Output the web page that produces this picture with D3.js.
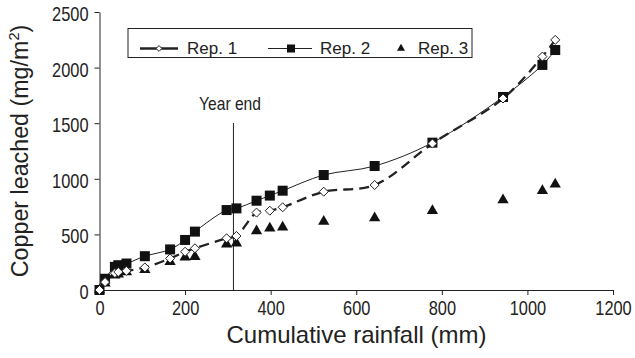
<!DOCTYPE html>
<html><head><meta charset="utf-8">
<script src="https://cdn.jsdelivr.net/npm/d3@7/dist/d3.min.js"></script>
<style>
body{margin:0;background:#fff;}
text{font-family:"Liberation Sans",Arial,sans-serif;fill:#222;}
</style></head><body>
<svg id="c" width="635" height="358"></svg>
<script>
const rainfall = [0, 13, 36, 44, 63, 106, 165, 200, 223, 297, 320, 367, 398, 428, 524, 643, 778, 943, 1035, 1065];
const rep1 = [0, 71, 152, 162, 172, 203, 284, 344, 375, 465, 486, 696, 713, 744, 884, 944, 1317, 1722, 2099, 2249];
const rep2 = [0, 101, 208, 223, 238, 304, 365, 450, 525, 719, 734, 803, 849, 893, 1034, 1115, 1325, 1736, 2024, 2158];
const rep3 = [0, 61, 132, 142, 162, 182, 253, 294, 300, 411, 420, 531, 555, 564, 615, 648, 713, 809, 893, 951];
const xTicks = [0, 200, 400, 600, 800, 1000, 1200];
const yTicks = [0, 500, 1000, 1500, 2000, 2500];
const yearEnd = 313;
const seriesNames = ["Rep. 1", "Rep. 2", "Rep. 3"];

const svg = d3.select("#c");
const x = d3.scaleLinear().domain([0, 1200]).range([99.5, 613]);
const y = d3.scaleLinear().domain([0, 2500]).range([290, 12]);
const K = 0.82; // horizontal compression for tick labels

// axes
const xAxis = svg.append("g").attr("transform", "translate(0,290)")
  .call(d3.axisBottom(x).tickValues(xTicks).tickFormat(d3.format("d")).tickSize(5).tickSizeOuter(0).tickPadding(4));
const yAxis = svg.append("g").attr("transform", "translate(99.5,0)")
  .call(d3.axisLeft(y).tickValues(yTicks).tickFormat(d3.format("d")).tickSize(5).tickSizeOuter(0).tickPadding(6));
[xAxis, yAxis].forEach(a => {
  a.selectAll("path,line").attr("stroke", "#222").attr("stroke-width", 1);
  a.selectAll("text").style("font-size", "20px").attr("fill", "#222")
    .style("font-family", '"Liberation Sans",Arial,sans-serif');
});
xAxis.selectAll(".tick text").attr("transform", `scale(${K},1)`).attr("y", 11).attr("dy", "0.71em");
yAxis.selectAll(".tick text").attr("transform", `scale(${K},1)`).attr("x", -11 / K).attr("dy", "0.42em");

// titles
svg.append("text").attr("x", 356.5).attr("y", 343).attr("text-anchor", "middle")
  .style("font-size", "24px").text("Cumulative rainfall (mm)");
const yt = svg.append("text").attr("transform", "translate(28,151) rotate(-90) scale(0.97,1)")
  .attr("text-anchor", "middle").style("font-size", "24px");
yt.append("tspan").text("Copper leached (mg/m");
yt.append("tspan").attr("dy", -9).style("font-size", "15px").text("2");
yt.append("tspan").attr("dy", 9).text(")");

// year end
svg.append("line").attr("x1", x(yearEnd)).attr("x2", x(yearEnd)).attr("y1", 123).attr("y2", 290)
  .attr("stroke", "#222").attr("stroke-width", 1);
svg.append("text").attr("transform", `translate(230,110) scale(0.84,1)`).attr("text-anchor", "middle")
  .style("font-size", "18.6px").text("Year end");

const d1 = rainfall.map((r, i) => [r, rep1[i]]);
const d2 = rainfall.map((r, i) => [r, rep2[i]]);
const d3p = rainfall.map((r, i) => [r, rep3[i]]);
const line = d3.line().x(d => x(d[0])).y(d => y(d[1])).curve(d3.curveCatmullRom.alpha(0.5));

svg.append("path").datum(d2).attr("d", line).attr("fill", "none").attr("stroke", "#222").attr("stroke-width", 1);
svg.append("path").datum(d1).attr("d", line).attr("fill", "none").attr("stroke", "#222")
  .attr("stroke-width", 2.3).attr("stroke-dasharray", "10,6");

const tri = d3.symbol().type(d3.symbolTriangle).size(55);
svg.append("g").selectAll("path").data(d3p).join("path")
  .attr("transform", d => `translate(${x(d[0])},${y(d[1])})`).attr("d", tri).attr("fill", "#111");
svg.append("g").selectAll("rect").data(d2).join("rect")
  .attr("x", d => x(d[0]) - 5).attr("y", d => y(d[1]) - 5).attr("width", 10).attr("height", 10).attr("fill", "#111");
const dia = d3.symbol().type(d3.symbolDiamond2).size(52);
svg.append("g").selectAll("path").data(d1).join("path")
  .attr("transform", d => `translate(${x(d[0])},${y(d[1])})`).attr("d", dia)
  .attr("fill", "#fff").attr("stroke", "#222").attr("stroke-width", 1);

// legend
const lg = svg.append("g");
lg.append("rect").attr("x", 128).attr("y", 28.5).attr("width", 344).attr("height", 29)
  .attr("fill", "#fff").attr("stroke", "#222").attr("stroke-width", 1);
const ly = 48.5;
lg.append("line").attr("x1", 140).attr("x2", 178).attr("y1", ly).attr("y2", ly).attr("stroke", "#222").attr("stroke-width", 2.3);
lg.append("path").attr("transform", `translate(159,${ly})`).attr("d", d3.symbol().type(d3.symbolDiamond2).size(22))
  .attr("fill", "#fff").attr("stroke", "#222").attr("stroke-width", 1);
lg.append("text").attr("x", 187).attr("y", 54).style("font-size", "17px").text(seriesNames[0]);
lg.append("line").attr("x1", 268).attr("x2", 312).attr("y1", ly).attr("y2", ly).attr("stroke", "#222").attr("stroke-width", 1);
lg.append("rect").attr("x", 287).attr("y", ly - 4).attr("width", 8).attr("height", 8).attr("fill", "#111");
lg.append("text").attr("x", 320).attr("y", 54).style("font-size", "17px").text(seriesNames[1]);
lg.append("path").attr("transform", `translate(401,${ly})`).attr("d", d3.symbol().type(d3.symbolTriangle).size(28)).attr("fill", "#111");
lg.append("text").attr("x", 418).attr("y", 54).style("font-size", "17px").text(seriesNames[2]);
</script></body></html>
